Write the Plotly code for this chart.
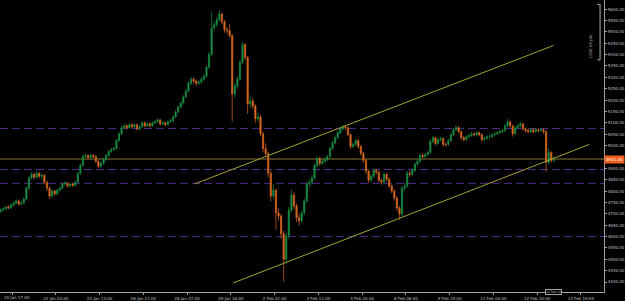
import plotly.graph_objects as go

# ---------------- data ----------------
first_open = 4710
close = [4717,4722,4730,4726,4739,4748,4757,4743,4748,4765,4813,4857,4874,4861,4878,4865,4870,4839,4813,4778,
         4800,4787,4804,4813,4831,4835,4822,4831,4826,4839,4878,4913,4952,4957,4948,4957,4952,4931,4909,4922,
         4939,4957,4974,4983,4987,5022,5052,5079,5087,5079,5092,5083,5092,5074,5083,5100,5087,5096,5087,5100,
         5105,5113,5096,5100,5092,5105,5109,5126,5148,5170,5187,5214,5240,5274,5292,5283,5274,5279,5292,5305,
         5344,5401,5518,5531,5553,5579,5544,5509,5505,5483,5227,5261,5292,5366,5444,5388,5183,5196,5174,5118,
         5126,5052,4987,4965,4878,4778,4804,4704,4691,4613,4500,4604,4717,4783,4735,4683,4670,4704,4757,4831,
         4839,4857,4913,4944,4922,4931,4939,4952,4987,5013,5035,5057,5074,5083,5079,5048,4996,5005,5022,4996,
         4965,4935,4887,4848,4865,4891,4883,4848,4839,4874,4852,4822,4800,4770,4726,4700,4813,4822,4878,4874,
         4891,4918,4931,4957,4952,4961,4970,5018,5035,5009,5026,5031,5005,5005,5022,5048,5070,5079,5061,5035,
         5026,5039,5044,5052,5048,5057,5048,5026,5031,5039,5039,5048,5052,5057,5061,5066,5087,5105,5087,5052,
         5079,5087,5096,5074,5066,5061,5070,5061,5070,5066,5070,5061,4926,4970,4935,4941]
high = [4724,4729,4736,4738,4745,4755,4764,4762,4756,4772,4820,4866,4884,4881,4889,4884,4878,4875,4845,4820,
        4808,4806,4811,4820,4838,4843,4840,4838,4836,4846,4885,4921,4960,4966,4963,4964,4962,4958,4937,4930,
        4946,4964,4981,4990,4996,5029,5060,5087,5096,5094,5100,5098,5099,5097,5090,5108,5106,5103,5102,5107,
        5113,5121,5118,5108,5106,5112,5117,5133,5155,5178,5195,5222,5249,5283,5303,5300,5290,5288,5300,5315,
        5352,5412,5590,5546,5566,5596,5586,5552,5522,5535,5490,5275,5305,5378,5455,5450,5395,5222,5210,5182,
        5145,5135,5060,5010,4975,4890,4830,4812,4725,4700,4625,4615,4730,4805,4795,4745,4700,4715,4768,4840,
        4852,4870,4922,4955,4950,4942,4948,4960,4995,5022,5044,5066,5082,5092,5090,5084,5054,5015,5030,5028,
        5002,4972,4942,4895,4875,4900,4898,4890,4856,4883,4880,4860,4830,4808,4778,4735,4822,4835,4888,4890,
        4900,4926,4940,4966,4968,4970,4979,5026,5044,5040,5034,5040,5036,5014,5030,5056,5079,5090,5086,5066,
        5042,5046,5052,5060,5058,5064,5062,5054,5040,5046,5047,5055,5060,5064,5068,5074,5095,5117,5110,5092,
        5087,5095,5104,5100,5080,5074,5077,5076,5078,5076,5078,5076,5066,4988,4976,4952]
low = [4704,4711,4716,4720,4721,4733,4741,4736,4737,4742,4760,4806,4850,4852,4855,4857,4852,4830,4800,4765,
       4770,4780,4782,4798,4808,4825,4816,4817,4818,4821,4834,4872,4908,4945,4940,4942,4944,4924,4900,4903,
       4916,4933,4951,4968,4977,4982,5016,5046,5072,5070,5073,5076,5078,5066,5068,5078,5080,5082,5080,5082,
       5094,5099,5088,5090,5085,5087,5099,5103,5120,5142,5163,5181,5208,5234,5266,5272,5262,5266,5272,5285,
       5298,5336,5395,5505,5522,5545,5532,5496,5490,5474,5105,5210,5250,5285,5358,5375,5140,5165,5160,5100,
       5105,5040,4970,4950,4860,4755,4765,4630,4670,4590,4402,4480,4590,4705,4720,4665,4648,4660,4695,4748,
       4815,4828,4850,4905,4910,4915,4924,4932,4946,4980,5006,5028,5050,5066,5068,5040,4985,4988,4998,4987,
       4955,4925,4875,4836,4840,4858,4872,4838,4828,4832,4842,4812,4790,4758,4712,4674,4692,4800,4815,4862,
       4866,4884,4910,4925,4944,4945,4954,4964,5010,5000,5002,5018,4996,4996,4999,5016,5042,5064,5054,5026,
       5018,5020,5032,5038,5040,5042,5040,5018,5020,5025,5031,5033,5042,5046,5050,5055,5060,5080,5078,5040,
       5046,5072,5080,5066,5058,5054,5055,5054,5056,5058,5060,5052,4885,4918,4925,4928]

time_labels = ["20 Jan 17:00", "22 Jan 03:00", "23 Jan 13:00", "26 Jan 21:00", "28 Jan 07:00",
               "29 Jan 16:00", "2 Feb 01:00", "3 Feb 11:00", "4 Feb 20:00", "6 Feb 06:00",
               "9 Feb 15:00", "11 Feb 00:00", "12 Feb 10:00", "13 Feb 19:00"]
price_ticks = list(range(4400, 5601, 50))

support_resist = [5075, 4895, 4834, 4600]   # dashed purple levels
bid_level = 4941
channel_upper = {"x": [141.6, 420.7], "y": [4831, 5440]}
channel_lower = {"x": [171.7, 448.5], "y": [4396, 5005]}
ruler_text = "1200.00 pts"
time_marker = "12 Feb 22"

# ---------------- figure ----------------
H1_PER_CANDLE = 2
BARS_PER_LABEL = 34
x_bars = [-9 + H1_PER_CANDLE * i for i in range(len(close))]
opens = [first_open] + close[:-1]

GREEN = "#178c44"
ORANGE = "#d8671e"
FONT = "DejaVu Sans"

fig = go.Figure()
fig.add_trace(go.Candlestick(
    x=x_bars, open=opens, high=high, low=low, close=close,
    increasing=dict(line=dict(color=GREEN, width=0.7), fillcolor=GREEN),
    decreasing=dict(line=dict(color=ORANGE, width=0.7), fillcolor=ORANGE),
    whiskerwidth=0, showlegend=False, hoverinfo="skip"))

for lvl in support_resist:
    fig.add_shape(type="line", xref="paper", x0=0, x1=1, yref="y", y0=lvl, y1=lvl,
                  line=dict(color="#4f2c88", width=1, dash="8px,4px"), layer="below")
fig.add_shape(type="line", xref="paper", x0=0, x1=1, yref="y", y0=bid_level, y1=bid_level,
              line=dict(color="#857434", width=1), layer="below")

for ch in (channel_upper, channel_lower):
    fig.add_trace(go.Scatter(x=ch["x"], y=ch["y"], mode="lines",
                             line=dict(color="#a2a232", width=1),
                             showlegend=False, hoverinfo="skip"))

# current price tag (covers the tick label behind it, as the terminal does)
fig.add_annotation(xref="paper", x=1, xanchor="left", yref="y", y=bid_level,
                   text=f"{bid_level:.2f}", showarrow=False,
                   font=dict(size=4, color="#ffffff", family=FONT),
                   bgcolor="#f0601c", borderpad=1)

# ruler at top-right
fig.add_shape(type="line", xref="paper", x0=0.9935, x1=0.9935, yref="paper", y0=0.795, y1=0.985,
              line=dict(color="#b0b0b0", width=1))
fig.add_shape(type="line", xref="paper", x0=0.989, x1=0.9935, yref="paper", y0=0.985, y1=0.985,
              line=dict(color="#b0b0b0", width=1))
fig.add_shape(type="line", xref="paper", x0=0.989, x1=0.9935, yref="paper", y0=0.795, y1=0.795,
              line=dict(color="#b0b0b0", width=1))
fig.add_annotation(xref="paper", x=0.985, yref="paper", y=0.89, text=ruler_text,
                   textangle=-90, showarrow=False,
                   font=dict(size=4, color="#b0b0b0", family=FONT))

# time marker box on the time scale
fig.add_annotation(xref="paper", x=0.917, xanchor="center", yref="paper", y=0.0, yanchor="middle",
                   text=time_marker, showarrow=False,
                   font=dict(size=3, color="#c0c0c0", family=FONT),
                   bgcolor="#000000", bordercolor="#a0a0a0", borderwidth=1, borderpad=0)

# first time label, kept inside the window so it is not clipped away
fig.add_annotation(xref="paper", x=0.004, xanchor="left", yref="paper", y=0, yanchor="top", yshift=-1,
                   text=time_labels[0], showarrow=False,
                   font=dict(size=4, color="#c0c0c0", family=FONT))

tick_text_y = [("" if abs(p - bid_level) < 25 else f"{p:.2f}") for p in price_ticks]

x_range = [-9.5, 460]
fig.update_layout(
    width=625, height=301,
    margin=dict(l=0, r=16, t=0, b=6),
    paper_bgcolor="#000000", plot_bgcolor="#000000",
    xaxis=dict(range=x_range, rangeslider=dict(visible=False), showgrid=False, zeroline=False,
               tickvals=[BARS_PER_LABEL * k for k in range(len(time_labels))],
               ticktext=[""] + time_labels[1:],
               ticks="outside", ticklen=2, tickcolor="#a0a0a0",
               showline=True, linecolor="#a0a0a0", linewidth=1,
               tickfont=dict(size=4, color="#c0c0c0", family=FONT)),
    yaxis=dict(range=[4356.4, 5640.1], side="right", showgrid=False, zeroline=False,
               tickvals=price_ticks, ticktext=tick_text_y,
               ticks="outside", ticklen=2, tickcolor="#a0a0a0",
               showline=True, linecolor="#a0a0a0", linewidth=1,
               tickfont=dict(size=4, color="#c0c0c0", family=FONT)),
    hovermode=False,
)

fig.write_html("out.html")
